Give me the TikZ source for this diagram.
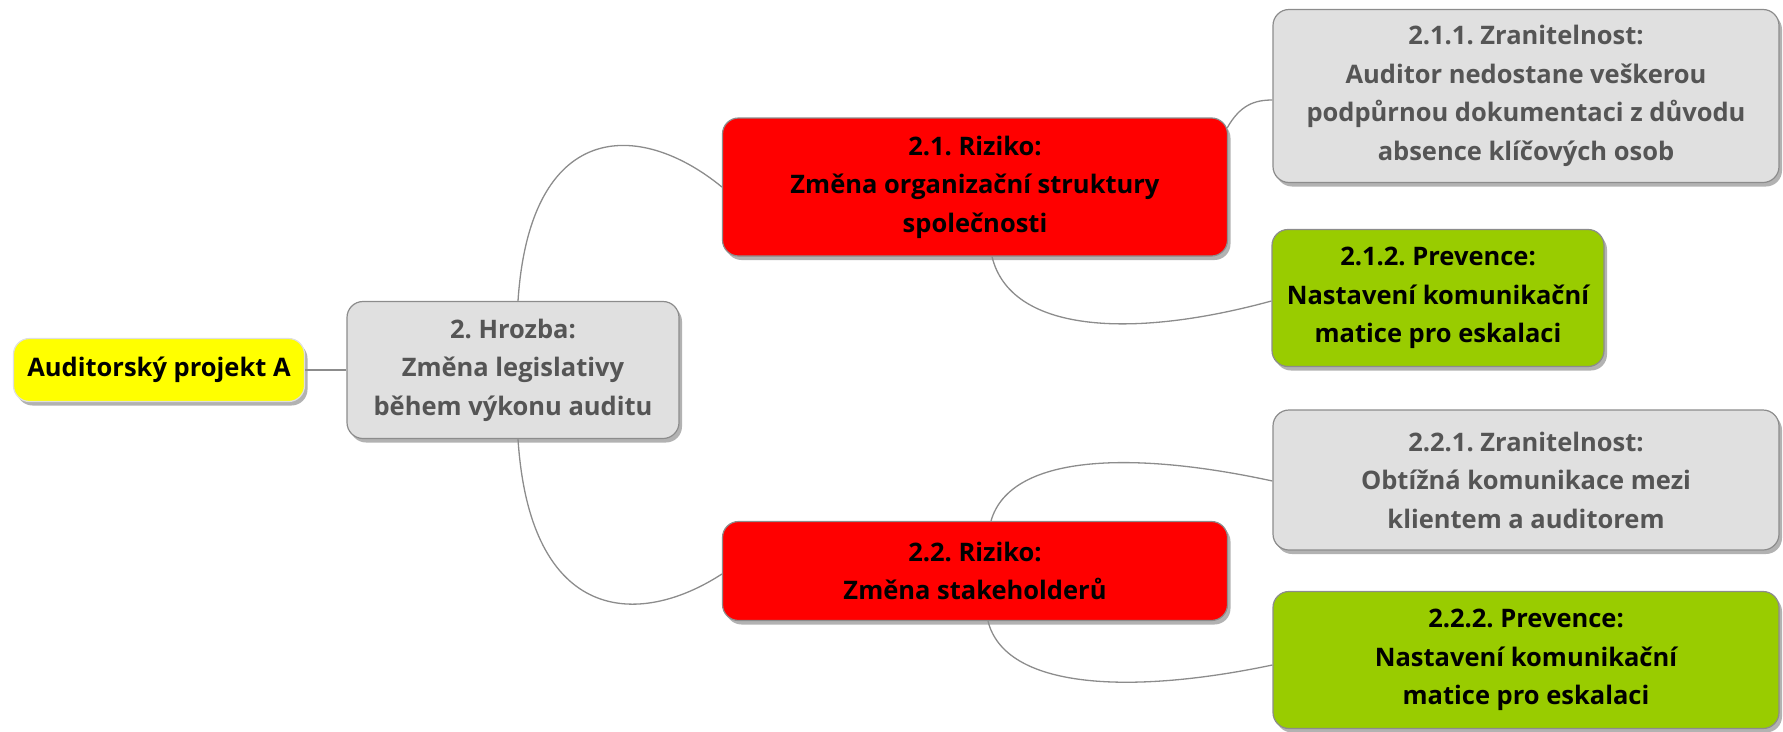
\documentclass[tikz,border=0pt]{standalone}
\usepackage{fontspec}
\setmainfont{Open Sans}
\usetikzlibrary{
    calc,
    shadows
}
\frenchspacing

\definecolor{boxgray}{HTML}{E0E0E0}
\definecolor{rimgray}{HTML}{8C8C8C}
\definecolor{txtgray}{HTML}{555555}
\definecolor{riskred}{HTML}{FF0000}
\definecolor{prevgreen}{HTML}{99CC00}
\definecolor{rootyellow}{HTML}{FFFF00}

\begin{document}
\begin{tikzpicture}[x=1pt,y=-1pt,
    topic/.style={draw=rimgray, line width=1.2pt, rounded corners=16pt,
        align=center, inner sep=0pt,
        font=\fontsize{25.5}{38.5}\selectfont\bfseries,
        drop shadow={shadow xshift=3pt, shadow yshift=-4pt,
            opacity=0.5, fill=black!60}},
    threat/.style={topic, fill=boxgray, text=txtgray},
    risk/.style={topic, fill=riskred},
    prevent/.style={topic, fill=prevgreen},
    link/.style={draw=rimgray, line width=1.3pt}
]

\useasboundingbox (0,0) rectangle (1783,731);

% Root
\node[topic, fill=rootyellow, draw=white!75!gray, minimum width=291pt,
    minimum height=63pt] (root) at (159,370) {Auditorský projekt A};

% Threat
\node[threat, minimum width=332pt, minimum height=137pt] (hrozba) at (513,370)
    {2. Hrozba:\\Změna legislativy\\během výkonu auditu};

% Risks
\node[risk, minimum width=505pt, minimum height=138pt] (r21) at (975,187)
    {2.1. Riziko:\\Změna organizační struktury\\společnosti};
\node[risk, minimum width=505pt, minimum height=99pt] (r22) at (975,571)
    {2.2. Riziko:\\Změna stakeholderů};

% Vulnerabilities and prevention
\node[threat, minimum width=506pt, minimum height=173pt] (z211) at (1526,96)
    {2.1.1. Zranitelnost:\\Auditor nedostane veškerou\\podpůrnou dokumentaci z důvodu\\absence klíčových osob};
\node[prevent, minimum width=332pt, minimum height=137pt] (p212) at (1438,298)
    {2.1.2. Prevence:\\Nastavení komunikační\\matice pro eskalaci};
\node[threat, minimum width=506pt, minimum height=140pt] (z221) at (1526,480)
    {2.2.1. Zranitelnost:\\Obtížná komunikace mezi\\klientem a auditorem};
\node[prevent, minimum width=506pt, minimum height=137pt] (p222) at (1526,660)
    {2.2.2. Prevence:\\Nastavení komunikační\\matice pro eskalaci};

% Links
\draw[link] (root.east) -- (hrozba.west);
\draw[link] ($(hrozba.north)+(5,0)$) .. controls +(12,-181) and +(-83,-68) .. (r21.west);
\draw[link] ($(hrozba.south)+(5,0)$) .. controls +(12,185) and +(-83,54) .. ($(r22.west)+(0,3)$);
\draw[link] ($(r21.east)+(-1,-59)$) .. controls +(13,-23) and +(-18,0) .. ($(z211.west)+(0,4)$);
\draw[link] ($(r21.south)+(17,0)$) .. controls +(18,75) and +(-143,39) .. ($(p212.west)+(0,3)$);
\draw[link] ($(r22.north)+(16,0)$) .. controls +(19,-66) and +(-143,-31) .. ($(z221.west)+(0,1)$);
\draw[link] ($(r22.south)+(13,0)$) .. controls +(17,68) and +(-143,30) .. ($(p222.west)+(0,5)$);

\end{tikzpicture}
\end{document}
